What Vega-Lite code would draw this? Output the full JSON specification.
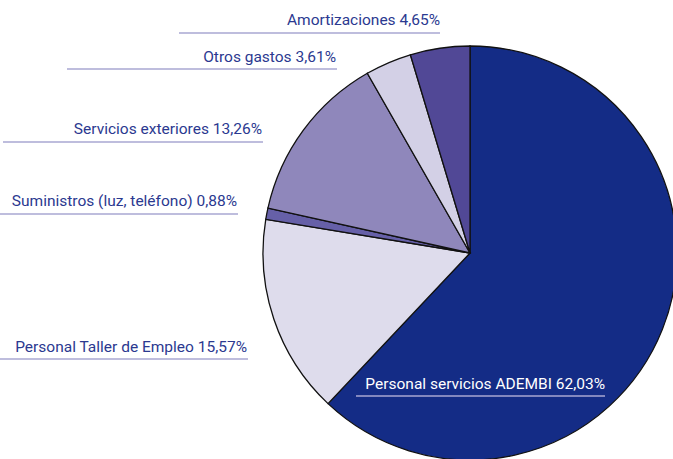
{
  "$schema": "https://vega.github.io/schema/vega-lite/v6.json",
  "width": 673,
  "height": 459,
  "autosize": {"type": "none"},
  "padding": 0,
  "background": "white",
  "config": {"view": {"stroke": null}},
  "datasets": {
    "slices": [
      {"item": "Personal servicios ADEMBI", "pct": 62.03, "rank": 1},
      {"item": "Personal Taller de Empleo", "pct": 15.57, "rank": 2},
      {"item": "Suministros (luz, teléfono)", "pct": 0.88, "rank": 3},
      {"item": "Servicios exteriores", "pct": 13.26, "rank": 4},
      {"item": "Otros gastos", "pct": 3.61, "rank": 5},
      {"item": "Amortizaciones", "pct": 4.65, "rank": 6}
    ],
    "labels": [
      {"item": "Amortizaciones", "label": "Amortizaciones 4,65%", "tx": 440, "ty": 25, "lx1": 179, "lx2": 440, "ly": 33},
      {"item": "Otros gastos", "label": "Otros gastos 3,61%", "tx": 336, "ty": 62, "lx1": 67, "lx2": 337, "ly": 69},
      {"item": "Servicios exteriores", "label": "Servicios exteriores 13,26%", "tx": 262, "ty": 134, "lx1": 3, "lx2": 263, "ly": 142},
      {"item": "Suministros (luz, teléfono)", "label": "Suministros (luz, teléfono) 0,88%", "tx": 237, "ty": 206, "lx1": 0, "lx2": 238, "ly": 214},
      {"item": "Personal Taller de Empleo", "label": "Personal Taller de Empleo 15,57%", "tx": 247, "ty": 352, "lx1": 0, "lx2": 248, "ly": 359},
      {"item": "Personal servicios ADEMBI", "label": "Personal servicios ADEMBI 62,03%", "tx": 605, "ty": 389, "lx1": 356, "lx2": 605, "ly": 396}
    ]
  },
  "layer": [
    {
      "data": {"name": "slices"},
      "mark": {"type": "arc", "outerRadius": 207, "stroke": "#111111", "strokeWidth": 1.3},
      "encoding": {
        "theta": {"field": "pct", "type": "quantitative", "stack": true},
        "order": {"field": "rank", "type": "quantitative"},
        "color": {
          "field": "item",
          "type": "nominal",
          "legend": null,
          "scale": {
            "domain": ["Personal servicios ADEMBI", "Personal Taller de Empleo", "Suministros (luz, teléfono)", "Servicios exteriores", "Otros gastos", "Amortizaciones"],
            "range": ["#142c86", "#dedcec", "#6660a8", "#8f87bb", "#d3d0e6", "#514896"]
          }
        },
        "x": {"datum": 470, "type": "quantitative", "scale": {"domain": [0, 673], "nice": false, "zero": false}, "axis": null},
        "y": {"datum": 253, "type": "quantitative", "scale": {"domain": [0, 459], "nice": false, "zero": false, "reverse": true}, "axis": null}
      }
    },
    {
      "data": {"name": "labels"},
      "mark": {"type": "rule", "strokeWidth": 1.5, "color": "#a9a7d2"},
      "encoding": {
        "x": {"field": "lx1", "type": "quantitative"},
        "x2": {"field": "lx2"},
        "y": {"field": "ly", "type": "quantitative"}
      }
    },
    {
      "data": {"name": "labels"},
      "mark": {"type": "text", "align": "right", "baseline": "alphabetic", "font": "Roboto", "fontSize": 15.5},
      "encoding": {
        "x": {"field": "tx", "type": "quantitative"},
        "y": {"field": "ty", "type": "quantitative"},
        "text": {"field": "label"},
        "color": {
          "condition": {"test": "datum.item === 'Personal servicios ADEMBI'", "value": "#ffffff"},
          "value": "#2b3990"
        }
      }
    }
  ]
}
